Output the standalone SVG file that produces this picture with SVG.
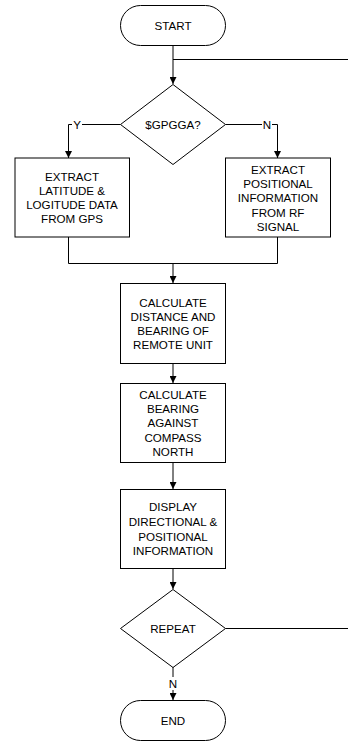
<svg xmlns="http://www.w3.org/2000/svg" width="348" height="742" viewBox="0 0 348 742">
  <style>
    .shape { fill: #ffffff; stroke: #000000; stroke-width: 1; }
    .wire { fill: none; stroke: #000000; stroke-width: 1; }
    .lbl { font-family: "Liberation Sans", Arial, sans-serif; font-size: 11.6px; fill: #000000; text-anchor: middle; dominant-baseline: central; }
    .gap { fill: #ffffff; stroke: none; }
  </style>
  <defs>
    <marker id="arrow" viewBox="0 0 8 8" refX="8" refY="4" markerWidth="7" markerHeight="7" markerUnits="userSpaceOnUse" orient="auto">
      <path d="M0,0 L8,4 L0,8 z" fill="#000000"/>
    </marker>
  </defs>

  <!-- connectors -->
  <g id="connectors">
    <path class="wire" d="M173,45 V84" marker-end="url(#arrow)"/>
    <path class="wire" d="M173,59.5 H348"/>
    <path class="wire" d="M120.5,124.5 H68.5 V158" marker-end="url(#arrow)"/>
    <path class="wire" d="M225.5,124.5 H277.5 V158" marker-end="url(#arrow)"/>
    <path class="wire" d="M68.5,237 V263.5 H277.5 V237"/>
    <path class="wire" d="M173,263.5 V283" marker-end="url(#arrow)"/>
    <path class="wire" d="M173,363 V383" marker-end="url(#arrow)"/>
    <path class="wire" d="M173,463 V489" marker-end="url(#arrow)"/>
    <path class="wire" d="M173,569 V589" marker-end="url(#arrow)"/>
    <path class="wire" d="M225.5,628.5 H348"/>
    <path class="wire" d="M173,667 V700" marker-end="url(#arrow)"/>
    <!-- branch labels -->
    <rect class="gap" x="72" y="118" width="10" height="13"/>
    <text class="lbl" x="77" y="124.5">Y</text>
    <rect class="gap" x="262" y="118" width="10" height="13"/>
    <text class="lbl" x="267" y="124.5">N</text>
    <rect class="gap" x="168" y="677" width="10" height="13"/>
    <text class="lbl" x="173" y="683.5">N</text>
  </g>

  <g id="start">
    <rect class="shape" x="120.5" y="5.5" width="105" height="40" rx="20" ry="20"/>
    <text class="lbl" x="173" y="25.5">START</text>
  </g>

  <g id="gpgga">
    <polygon class="shape" points="173,84.5 225.5,124.5 173,164.5 120.5,124.5"/>
    <text class="lbl" x="173" y="124.5">$GPGGA?</text>
  </g>

  <g id="extract-gps">
    <rect class="shape" x="15" y="158" width="114.5" height="79"/>
    <text class="lbl" x="72" y="176">EXTRACT</text>
    <text class="lbl" x="72" y="190.5">LATITUDE &amp;</text>
    <text class="lbl" x="72" y="204.5">LOGITUDE DATA</text>
    <text class="lbl" x="72" y="218.5">FROM GPS</text>
  </g>

  <g id="extract-rf">
    <rect class="shape" x="225.5" y="158" width="105" height="79"/>
    <text class="lbl" x="278" y="169.5">EXTRACT</text>
    <text class="lbl" x="278" y="183.5">POSITIONAL</text>
    <text class="lbl" x="278" y="197.5">INFORMATION</text>
    <text class="lbl" x="278" y="212">FROM RF</text>
    <text class="lbl" x="278" y="226.5">SIGNAL</text>
  </g>

  <g id="calc-distance">
    <rect class="shape" x="120.5" y="283.5" width="105" height="80"/>
    <text class="lbl" x="173" y="302">CALCULATE</text>
    <text class="lbl" x="173" y="316">DISTANCE AND</text>
    <text class="lbl" x="173" y="330">BEARING OF</text>
    <text class="lbl" x="173" y="344">REMOTE UNIT</text>
  </g>

  <g id="calc-bearing">
    <rect class="shape" x="120.5" y="383.5" width="105" height="79"/>
    <text class="lbl" x="173" y="394">CALCULATE</text>
    <text class="lbl" x="173" y="408">BEARING</text>
    <text class="lbl" x="173" y="422.5">AGAINST</text>
    <text class="lbl" x="173" y="437">COMPASS</text>
    <text class="lbl" x="173" y="451">NORTH</text>
  </g>

  <g id="display">
    <rect class="shape" x="120.5" y="489.5" width="105" height="79"/>
    <text class="lbl" x="173" y="506">DISPLAY</text>
    <text class="lbl" x="173" y="521.5">DIRECTIONAL &amp;</text>
    <text class="lbl" x="173" y="536">POSITIONAL</text>
    <text class="lbl" x="173" y="550">INFORMATION</text>
  </g>

  <g id="repeat">
    <polygon class="shape" points="173,589.5 225.5,628.5 173,667.5 120.5,628.5"/>
    <text class="lbl" x="173" y="628.5">REPEAT</text>
  </g>

  <g id="end">
    <rect class="shape" x="120.5" y="700.5" width="105" height="40" rx="20" ry="20"/>
    <text class="lbl" x="173" y="720.5">END</text>
  </g>
</svg>
